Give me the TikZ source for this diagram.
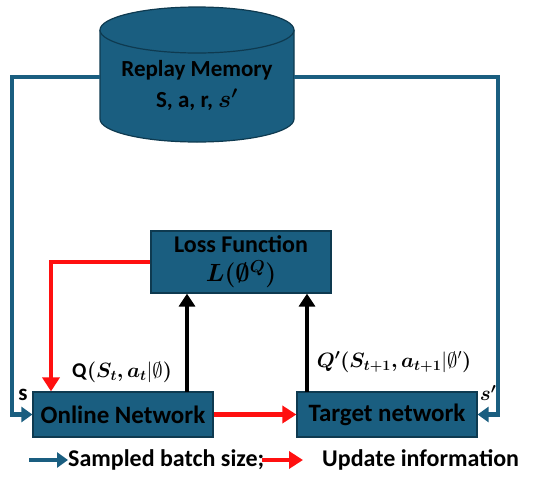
\documentclass[tikz,border=0pt]{standalone}
\usepackage{fontspec}
\setmainfont{Carlito}
\usepackage{amsmath,bm}
\usetikzlibrary{arrows.meta,calc}
\definecolor{boxblue}{HTML}{1A5E80}
\definecolor{boxedge}{HTML}{0E3A50}
\definecolor{linered}{HTML}{FF1010}
\tikzset{
  netbox/.style={draw=boxedge,line width=1.2pt,fill=boxblue,inner sep=0pt,font=\bfseries\fontsize{25}{28}\selectfont,text=black},
  blueline/.style={draw=boxblue,line width=4.5pt,-{Triangle[length=11pt,width=15pt]}},
  redline/.style={draw=linered,line width=4.5pt,-{Triangle[length=14pt,width=17pt]}},
  blackline/.style={draw=black,line width=4.5pt,-{Triangle[length=13pt,width=16pt]}},
  lbl/.style={font=\fontsize{21}{23}\selectfont,text=black,inner sep=0pt},
  legtext/.style={anchor=west,inner sep=0pt,font=\bfseries\fontsize{24}{26}\selectfont},
  memtext/.style={inner sep=0pt,font=\bfseries\fontsize{23}{24}\selectfont},
}
\begin{document}
\begin{tikzpicture}[x=1pt,y=-1pt]
\useasboundingbox (0,0) rectangle (550,483);
% cylinder
\fill[boxblue] (100,30) -- (100,119) arc[start angle=180,end angle=0,x radius=97,y radius=23] -- (294,30) -- cycle;
\draw[boxedge,line width=1.2pt] (100,30) -- (100,119) arc[start angle=180,end angle=0,x radius=97,y radius=23] -- (294,30);
\filldraw[fill=boxblue,draw=boxedge,line width=1.2pt] (197,30) ellipse[x radius=97,y radius=23];
\node[memtext] (mem) at (197,70) {Replay Memory};
\node[memtext] (mem2) at (197,100) {S, a, r, $\bm{s'}$};
\coordinate (memL) at (100,77);
\coordinate (memR) at (294,77);
% boxes
\node[netbox,minimum width=180pt,minimum height=45pt] (online) at (123,414.5) {Online Network};
\node[netbox,minimum width=180pt,minimum height=45pt] (target) at (387,414.5) {Target network};
\node[netbox,minimum width=180pt,minimum height=62pt,align=center,font=\bfseries\fontsize{24}{26}\selectfont] (loss) at (241,262)
  {Loss Function\\[3pt] $\bm{L(\emptyset^{Q})}$};
% corner coordinates
\coordinate (lc) at (12,77);
\coordinate (rc) at (498,77);
\coordinate (redc) at (51,262);
% blue connectors
\draw[blueline] (memL) -- (lc) |- (online.west);
\draw[blueline] (memR) -- (rc) |- (target.east);
% red connectors
\draw[redline] (loss.west |- redc) -- (redc) -- (redc |- online.north);
\draw[redline] (online.east) -- (target.west);
% black connectors
\coordinate (b1) at (187,392);
\coordinate (b2) at (307,392);
\draw[blackline] (b1) -- (b1 |- loss.south);
\draw[blackline] (b2) -- (b2 |- loss.south);
% labels
\node[lbl] (ql) at (122,372) {\textbf{Q}$\bm{(S_t, a_t}|\emptyset\bm{)}$};
\node[lbl,font=\fontsize{20}{22}\selectfont] (qt) at (394,362) {$\bm{Q'(S_{t+1}, a_{t+1}}|\emptyset'\bm{)}$};
\node[lbl,font=\bfseries\fontsize{23}{24}\selectfont] (sl) at (23,395) {s};
\node[lbl] (sr) at (488,393) {$\bm{s'}$};
% legend
\coordinate (lb1) at (29,460);
\coordinate (lb2) at (68,460);
\draw[blueline] (lb1) -- (lb2);
\node[legtext] (leg1) at (lb2) {Sampled batch size;};
\coordinate (lr1) at (262,460);
\coordinate (lr2) at (303,460);
\draw[redline] (lr1) -- (lr2);
\node[legtext] (leg2) at (322,460) {Update information};
\end{tikzpicture}
\end{document}
